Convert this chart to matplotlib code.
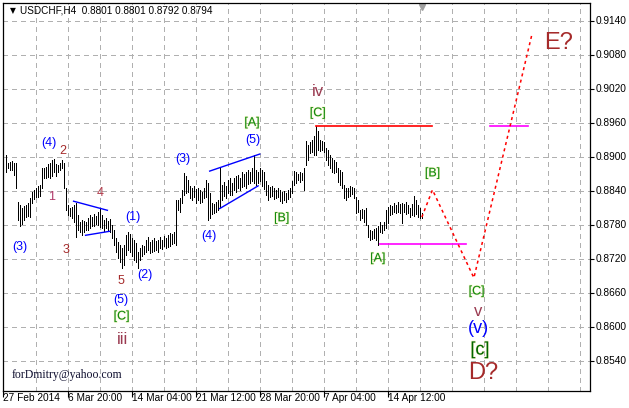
import matplotlib
matplotlib.use('Agg')
import matplotlib.pyplot as plt
import matplotlib.patheffects as pe
from matplotlib.transforms import blended_transform_factory

plt.rcParams['font.family'] = ['Liberation Sans', 'DejaVu Sans']

# ---------------- data ----------------
symbol = "USDCHF,H4"
last_ohlc = [0.8801, 0.8801, 0.8792, 0.8794]

highs = [
    0.8903, 0.8889, 0.8891, 0.8893, 0.8889, 0.8889, 0.8820, 0.8815, 0.8810, 0.8813,
    0.8815, 0.8819, 0.8828, 0.8838, 0.8842, 0.8845, 0.8849, 0.8850, 0.8880, 0.8880,
    0.8882, 0.8887, 0.8889, 0.8894, 0.8896, 0.8887, 0.8886, 0.8889, 0.8894, 0.8889,
    0.8845, 0.8815, 0.8810, 0.8812, 0.8815, 0.8819, 0.8798, 0.8785, 0.8789, 0.8787,
    0.8785, 0.8792, 0.8798, 0.8794, 0.8799, 0.8796, 0.8803, 0.8810, 0.8798, 0.8789,
    0.8792, 0.8787, 0.8791, 0.8780, 0.8771, 0.8757, 0.8750, 0.8745, 0.8740, 0.8745,
    0.8762, 0.8768, 0.8764, 0.8757, 0.8754, 0.8748, 0.8733, 0.8740, 0.8745, 0.8743,
    0.8754, 0.8759, 0.8750, 0.8754, 0.8757, 0.8752, 0.8754, 0.8759, 0.8754, 0.8761,
    0.8757, 0.8762, 0.8766, 0.8764, 0.8768, 0.8824, 0.8824, 0.8828, 0.8842, 0.8871,
    0.8866, 0.8859, 0.8849, 0.8845, 0.8849, 0.8843, 0.8845, 0.8842, 0.8838, 0.8845,
    0.8859, 0.8854, 0.8836, 0.8819, 0.8817, 0.8820, 0.8824, 0.8882, 0.8850, 0.8856,
    0.8849, 0.8859, 0.8863, 0.8854, 0.8863, 0.8866, 0.8868, 0.8863, 0.8873, 0.8870,
    0.8873, 0.8877, 0.8873, 0.8880, 0.8903, 0.8877, 0.8873, 0.8880, 0.8877, 0.8873,
    0.8857, 0.8850, 0.8847, 0.8849, 0.8845, 0.8842, 0.8845, 0.8842, 0.8838, 0.8840,
    0.8836, 0.8842, 0.8845, 0.8857, 0.8875, 0.8873, 0.8870, 0.8873, 0.8871, 0.8880,
    0.8928, 0.8921, 0.8926, 0.8930, 0.8937, 0.8954, 0.8945, 0.8930, 0.8928, 0.8926,
    0.8916, 0.8912, 0.8903, 0.8898, 0.8894, 0.8891, 0.8880, 0.8877, 0.8873, 0.8850,
    0.8845, 0.8845, 0.8849, 0.8847, 0.8845, 0.8829, 0.8824, 0.8806, 0.8808, 0.8806,
    0.8810, 0.8780, 0.8771, 0.8769, 0.8773, 0.8775, 0.8778, 0.8785, 0.8780, 0.8785,
    0.8806, 0.8812, 0.8815, 0.8813, 0.8819, 0.8815, 0.8820, 0.8817, 0.8819, 0.8817,
    0.8820, 0.8815, 0.8810, 0.8817, 0.8831, 0.8824, 0.8815, 0.8810, 0.8801]

lows = [
    0.8873, 0.8880, 0.8877, 0.8877, 0.8868, 0.8845, 0.8789, 0.8778, 0.8782, 0.8789,
    0.8794, 0.8796, 0.8794, 0.8819, 0.8826, 0.8829, 0.8829, 0.8831, 0.8845, 0.8863,
    0.8863, 0.8864, 0.8863, 0.8866, 0.8873, 0.8866, 0.8873, 0.8877, 0.8880, 0.8845,
    0.8806, 0.8798, 0.8796, 0.8792, 0.8785, 0.8759, 0.8771, 0.8768, 0.8762, 0.8768,
    0.8771, 0.8771, 0.8775, 0.8778, 0.8778, 0.8782, 0.8780, 0.8776, 0.8775, 0.8769,
    0.8775, 0.8771, 0.8768, 0.8757, 0.8745, 0.8733, 0.8722, 0.8715, 0.8704, 0.8710,
    0.8727, 0.8736, 0.8733, 0.8725, 0.8718, 0.8715, 0.8704, 0.8718, 0.8725, 0.8729,
    0.8733, 0.8736, 0.8731, 0.8733, 0.8734, 0.8736, 0.8733, 0.8740, 0.8738, 0.8743,
    0.8740, 0.8741, 0.8743, 0.8747, 0.8748, 0.8745, 0.8806, 0.8803, 0.8819, 0.8833,
    0.8836, 0.8838, 0.8828, 0.8824, 0.8829, 0.8819, 0.8824, 0.8819, 0.8820, 0.8828,
    0.8829, 0.8789, 0.8792, 0.8799, 0.8801, 0.8803, 0.8806, 0.8812, 0.8824, 0.8831,
    0.8828, 0.8836, 0.8833, 0.8833, 0.8842, 0.8838, 0.8845, 0.8842, 0.8847, 0.8849,
    0.8845, 0.8852, 0.8854, 0.8857, 0.8854, 0.8850, 0.8854, 0.8857, 0.8849, 0.8843,
    0.8833, 0.8824, 0.8829, 0.8831, 0.8826, 0.8828, 0.8829, 0.8822, 0.8819, 0.8824,
    0.8820, 0.8826, 0.8829, 0.8836, 0.8850, 0.8854, 0.8859, 0.8856, 0.8859, 0.8842,
    0.8886, 0.8894, 0.8907, 0.8908, 0.8903, 0.8903, 0.8912, 0.8910, 0.8912, 0.8908,
    0.8894, 0.8886, 0.8880, 0.8873, 0.8871, 0.8873, 0.8856, 0.8850, 0.8845, 0.8828,
    0.8824, 0.8829, 0.8831, 0.8835, 0.8828, 0.8801, 0.8803, 0.8789, 0.8792, 0.8785,
    0.8780, 0.8759, 0.8754, 0.8755, 0.8757, 0.8754, 0.8745, 0.8768, 0.8766, 0.8771,
    0.8775, 0.8784, 0.8798, 0.8799, 0.8803, 0.8801, 0.8803, 0.8801, 0.8784, 0.8803,
    0.8799, 0.8801, 0.8794, 0.8798, 0.8796, 0.8799, 0.8794, 0.8792, 0.8792]

date_labels = ["27 Feb 2014", "6 Mar 20:00", "14 Mar 04:00", "21 Mar 12:00",
               "28 Mar 20:00", "7 Apr 04:00", "14 Apr 12:00"]
date_bars = [0, 32, 64, 96, 128, 160, 192]
price_ticks = [0.8540, 0.8600, 0.8660, 0.8720, 0.8780, 0.8840, 0.8900,
               0.8960, 0.9020, 0.9080, 0.9140]

# forecast path (bar index, price)
proj_bars = [209, 214.3, 235, 263.8]
proj_prices = [0.8794, 0.8842, 0.8687, 0.9113]

# horizontal levels: (start bar, end bar, price)
red_level = (156.3, 213.9, 0.8954)
mag_level_hi = (243, 261.8, 0.8954)
mag_level_lo = (188, 230.9, 0.8746)

# blue channel / triangle lines
tri_upper = ([35, 51.9], [0.8822, 0.8806])
tri_lower = ([41, 53], [0.8762, 0.8769])
wedge_upper = ([103, 128], [0.8875, 0.8905])
wedge_lower = ([108, 127.2], [0.8809, 0.8849])

# ---------------- figure ----------------
W, H = 629, 408
fig = plt.figure(figsize=(W / 100, H / 100), dpi=100)
fig.patch.set_facecolor('white')
left, right, top, bottom = 3.5, 590, 3, 391
ax = fig.add_axes([left / W, (H - bottom) / H, (right - left) / W, (bottom - top) / H])
ax.set_xlim(0, 293)
ax.set_ylim(0.84878, 0.9171)

ax.set_yticks(price_ticks)
ax.set_yticklabels([f"{p:.4f}" for p in price_ticks])
ax.set_xticks(date_bars)
ax.set_xticklabels(date_labels, ha='left')
ax.tick_params(axis='x', which='major', direction='out', length=4, width=0.8,
               pad=-2.5, labelsize=7.3, colors='black')
ax.yaxis.tick_right()
ax.tick_params(axis='y', direction='out', length=3, width=0.8, pad=1,
               labelsize=7.3, colors='black')
for lab_ in ax.get_yticklabels():
    lab_.set_va('center')
for s in ax.spines.values():
    s.set_color('black')
    s.set_linewidth(0.9)

# grid drawn explicitly (crisp dashed light-grey)
grid_style = dict(color='#b0b0b0', lw=0.75, linestyle=(0, (4, 4)), zorder=1,
                  antialiased=False, snap=True)
for gx in range(16, 293, 16):
    ax.axvline(gx, **grid_style)
for gy in price_ticks:
    ax.axhline(gy, **grid_style)

# bars
bar_x = list(range(1, len(highs) + 1))
ax.vlines(bar_x, lows, highs, color='black', lw=0.72, snap=True, antialiased=False, zorder=2)

# levels
ax.plot(red_level[:2], [red_level[2]] * 2, color='red', lw=1.2, zorder=3)
ax.plot(mag_level_hi[:2], [mag_level_hi[2]] * 2, color='#ff00ff', lw=1.2, zorder=3)
ax.plot(mag_level_lo[:2], [mag_level_lo[2]] * 2, color='#ff00ff', lw=1.2, zorder=3)
for xs, ys in (tri_upper, tri_lower, wedge_upper, wedge_lower):
    ax.plot(xs, ys, color='blue', lw=1.0, zorder=3)

# forecast
ax.plot(proj_bars, proj_prices, color='red', lw=1.1, linestyle=(0, (2, 2.2)), zorder=3)

# labels
BLUE, BROWN, GREEN, DGREEN = '#0000ff', '#a52a2a', '#108a10', '#006400'
glow = [pe.withStroke(linewidth=1.0, foreground='#e8e870', alpha=0.35)]
def lab(x, y, s, c, fs=9, fx=None):
    ax.text(x, y, s, color=c, fontsize=fs, ha='center', va='center',
            path_effects=fx, zorder=4)

lab(8.35, 0.8742, "(3)", BLUE)
lab(22.5, 0.8924, "(4)", BLUE)
lab(29.5, 0.8911, "2", BROWN)
lab(23.85, 0.8830, "1", '#b03a6a')
lab(31.35, 0.8736, "3", BROWN)
lab(48.5, 0.8836, "4", '#b03a4a')
lab(64.5, 0.8795, "(1)", BLUE)
lab(58.5, 0.8682, "5", BROWN)
lab(58.5, 0.8648, "(5)", BLUE)
lab(59, 0.8619, "[C]", GREEN, fx=glow)
lab(59.5, 0.8578, "iii", '#9a3a50', fs=12)
lab(70.85, 0.8692, "(2)", BLUE)
lab(89.5, 0.8897, "(3)", BLUE)
lab(102.5, 0.8761, "(4)", BLUE)
lab(124.5, 0.8930, "(5)", BLUE)
lab(124.15, 0.8960, "[A]", GREEN, fx=glow)
lab(139, 0.8792, "[B]", GREEN, fx=glow)
lab(157, 0.9015, "iv", '#9a3a50', fs=12)
lab(157, 0.8977, "[C]", GREEN, fx=glow)
lab(214.35, 0.8871, "[B]", GREEN, fx=glow)
lab(187, 0.8721, "[A]", GREEN, fx=glow)
lab(236.35, 0.8663, "[C]", GREEN, fx=glow)
lab(237, 0.8627, "v", '#9a3a50', fs=12)
lab(237.5, 0.8598, "(v)", BLUE, fs=13)
lab(238, 0.8560, "[c]", DGREEN, fs=13, fx=glow)
lab(239.5, 0.8519, "D?", BROWN, fs=17)
lab(277.15, 0.9100, "E?", BROWN, fs=17)

# email
ax.text(4.0, 0.8516, "forDmitry@yahoo.com", family='Liberation Serif', fontsize=8.5,
        color='#101030', ha='left', va='center', zorder=4)

# header
hdr = f"{symbol}  " + " ".join(f"{v:.4f}" for v in last_ohlc)
fig.text(12.5 / W, 1 - 10.5 / H, "\u25bc", fontsize=5.5, color='black', ha='center', va='center',
         family=['DejaVu Sans'])
fig.text(19.5 / W, 1 - 10.5 / H, hdr, fontsize=7.2, color='black', ha='left', va='center')

# chart-shift marker
tr = blended_transform_factory(ax.transData, ax.transAxes)
ax.plot([209.3], [0.99], marker='v', color='#a0a0a0', markersize=5, transform=tr, clip_on=False)

fig.savefig('out.png', dpi=100, facecolor='white')
